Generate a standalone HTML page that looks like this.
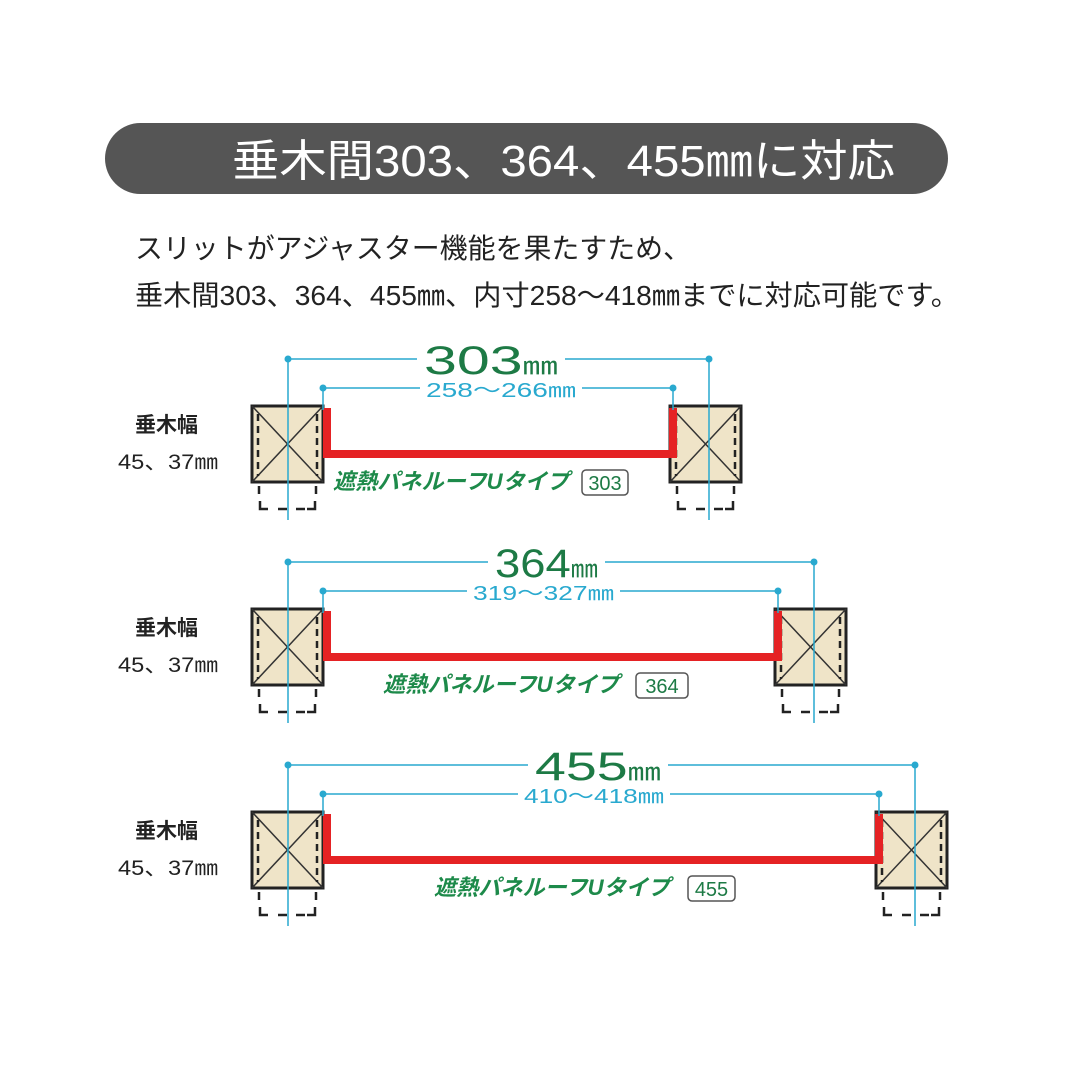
<!DOCTYPE html>
<html><head><meta charset="utf-8"><style>
html,body{margin:0;padding:0;background:#fff;width:1080px;height:1080px;overflow:hidden}
svg{display:block}
text{font-family:"Liberation Sans","Noto Sans CJK JP",sans-serif}
</style></head><body>
<svg id="s" width="1080" height="1080" viewBox="0 0 1080 1080" xmlns="http://www.w3.org/2000/svg">
<rect x="105" y="123" width="843" height="71" rx="35.5" fill="#555555"/>
<text x="232" y="176" font-size="44" fill="#fff" textLength="663" lengthAdjust="spacingAndGlyphs">垂木間303、364、455㎜に対応</text>
<text x="135" y="258" font-size="28" fill="#222" textLength="556" lengthAdjust="spacingAndGlyphs">スリットがアジャスター機能を果たすため、</text>
<text x="135" y="305" font-size="28" fill="#222" textLength="824" lengthAdjust="spacingAndGlyphs">垂木間303、364、455㎜、内寸258～418㎜までに対応可能です。</text>
<g id="g"></g>
</svg>
<script>
var g=document.getElementById('g'),h='';
var D=[
 {y:0,rs:670,big:'303',sm:'258～266㎜',lx:333,bx:582,bw:46,bl:417,br:565,sl:420,sr:582},
 {y:203,rs:775,big:'364',sm:'319～327㎜',lx:383,bx:636,bw:52,bl:488,br:605,sl:467,sr:620},
 {y:406,rs:876,big:'455',sm:'410～418㎜',lx:434,bx:688,bw:47,bl:528,br:668,sl:518,sr:670}
];
function stud(x,y){
 var s='<rect x="'+x+'" y="'+y+'" width="71" height="76" fill="#efe4c8" stroke="#222" stroke-width="3"/>';
 s+='<line x1="'+x+'" y1="'+y+'" x2="'+(x+71)+'" y2="'+(y+76)+'" stroke="#333" stroke-width="1.5"/>';
 s+='<line x1="'+(x+71)+'" y1="'+y+'" x2="'+x+'" y2="'+(y+76)+'" stroke="#333" stroke-width="1.5"/>';
 s+='<line x1="'+(x+6)+'" y1="'+(y+8)+'" x2="'+(x+6)+'" y2="'+(y+70)+'" stroke="#222" stroke-width="2.5" stroke-dasharray="7,5"/>';
 s+='<line x1="'+(x+65)+'" y1="'+(y+8)+'" x2="'+(x+65)+'" y2="'+(y+70)+'" stroke="#222" stroke-width="2.5" stroke-dasharray="7,5"/>';
 s+='<path d="M'+(x+7)+' '+(y+80)+'v8 M'+(x+64)+' '+(y+80)+'v8 M'+(x+8)+' '+(y+95)+'v8h8 M'+(x+26)+' '+(y+103)+'h9 M'+(x+44)+' '+(y+103)+'h9 M'+(x+63)+' '+(y+95)+'v8h-8" stroke="#222" stroke-width="2.5" fill="none"/>';
 return s;
}
D.forEach(function(d){
 var o=d.y,rx=d.rs,cl=288,cr=rx+39;
 h+='<text x="135" y="'+(432+o)+'" font-size="21" font-weight="bold" fill="#222">垂木幅</text>';
 h+='<text x="118" y="'+(469+o)+'" font-size="21" fill="#222" textLength="100" lengthAdjust="spacingAndGlyphs">45、37㎜</text>';
 h+=stud(252,406+o)+stud(rx,406+o);
 // red U
 h+='<path d="M327 '+(408+o)+'V'+(454+o)+'H'+(rx+3)+'V'+(408+o)+'" stroke="#e52224" stroke-width="8" fill="none"/>';
 // cyan lines
 var c='#29a9cf';
 h+='<line x1="'+cl+'" y1="'+(359+o)+'" x2="'+cl+'" y2="'+(520+o)+'" stroke="'+c+'" stroke-width="1.5"/>';
 h+='<line x1="'+cr+'" y1="'+(359+o)+'" x2="'+cr+'" y2="'+(520+o)+'" stroke="'+c+'" stroke-width="1.5"/>';
 h+='<line x1="323" y1="'+(388+o)+'" x2="323" y2="'+(410+o)+'" stroke="'+c+'" stroke-width="1.5"/>';
 h+='<line x1="'+(rx+3)+'" y1="'+(388+o)+'" x2="'+(rx+3)+'" y2="'+(410+o)+'" stroke="'+c+'" stroke-width="1.5"/>';
 h+='<line x1="'+cl+'" y1="'+(359+o)+'" x2="'+d.bl+'" y2="'+(359+o)+'" stroke="'+c+'" stroke-width="1.5"/>';
 h+='<line x1="'+d.br+'" y1="'+(359+o)+'" x2="'+cr+'" y2="'+(359+o)+'" stroke="'+c+'" stroke-width="1.5"/>';
 h+='<line x1="323" y1="'+(388+o)+'" x2="'+d.sl+'" y2="'+(388+o)+'" stroke="'+c+'" stroke-width="1.5"/>';
 h+='<line x1="'+d.sr+'" y1="'+(388+o)+'" x2="'+(rx+3)+'" y2="'+(388+o)+'" stroke="'+c+'" stroke-width="1.5"/>';
 [[cl,359],[cr,359],[323,388],[rx+3,388]].forEach(function(p){h+='<circle cx="'+p[0]+'" cy="'+(p[1]+o)+'" r="3.5" fill="'+c+'"/>';});
 var mid=(d.bl+d.br)/2;
 h+='<text x="'+mid+'" y="'+(374+o)+'" font-size="40" fill="#1d7a45" text-anchor="middle" textLength="'+(d.br-d.bl-14)+'" lengthAdjust="spacingAndGlyphs">'+d.big+'<tspan font-size="24">㎜</tspan></text>';
 h+='<text x="'+((d.sl+d.sr)/2)+'" y="'+(397+o)+'" font-size="20" fill="#29a9cf" text-anchor="middle" textLength="'+(d.sr-d.sl-12)+'" lengthAdjust="spacingAndGlyphs">'+d.sm+'</text>';
 h+='<text x="'+d.lx+'" y="'+(489+o)+'" font-size="22" font-weight="bold" font-style="italic" fill="#1d8a4a" textLength="236" lengthAdjust="spacingAndGlyphs" transform="skewX(0)">遮熱パネルーフUタイプ</text>';
 h+='<rect x="'+d.bx+'" y="'+(470+o)+'" width="'+d.bw+'" height="25" rx="4" fill="#fff" stroke="#555" stroke-width="1.5"/>';
 h+='<text x="'+(d.bx+d.bw/2)+'" y="'+(490+o)+'" font-size="20" fill="#1d7a45" text-anchor="middle">'+d.big+'</text>';
});
g.innerHTML=h;
</script>
</body></html>
